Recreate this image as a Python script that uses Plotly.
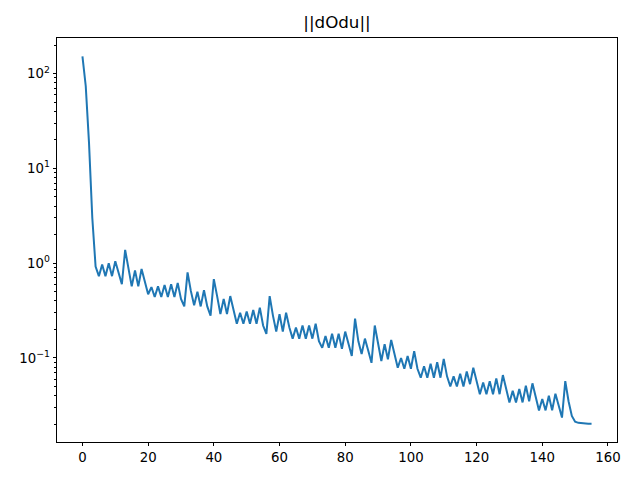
import plotly.graph_objects as go
import numpy as np

title_text = "||dOdu||"
values = [
    152, 74, 18.5, 3.0, 0.92, 0.73, 0.97, 0.73, 1.0, 0.73,
    1.05, 0.77, 0.6, 1.38, 0.86, 0.57, 0.84, 0.57, 0.87, 0.62,
    0.47, 0.56, 0.44, 0.57, 0.44, 0.59, 0.44, 0.60, 0.44, 0.62,
    0.42, 0.35, 0.80, 0.51, 0.36, 0.50, 0.35, 0.52, 0.35, 0.28,
    0.68, 0.45, 0.29, 0.42, 0.29, 0.45, 0.31, 0.23, 0.30, 0.23,
    0.31, 0.23, 0.32, 0.23, 0.34, 0.22, 0.18, 0.45, 0.28, 0.19,
    0.29, 0.19, 0.30, 0.21, 0.16, 0.21, 0.16, 0.22, 0.16, 0.22,
    0.16, 0.23, 0.15, 0.128, 0.17, 0.128, 0.18, 0.128, 0.18, 0.125,
    0.19, 0.14, 0.105, 0.26, 0.15, 0.11, 0.16, 0.12, 0.089, 0.22,
    0.14, 0.093, 0.14, 0.097, 0.155, 0.11, 0.079, 0.10, 0.077, 0.105,
    0.077, 0.118, 0.077, 0.062, 0.082, 0.062, 0.087, 0.062, 0.09, 0.062,
    0.098, 0.064, 0.05, 0.064, 0.05, 0.068, 0.05, 0.072, 0.053, 0.079,
    0.057, 0.0415, 0.055, 0.0415, 0.057, 0.0415, 0.061, 0.0415, 0.066, 0.047,
    0.034, 0.045, 0.034, 0.047, 0.034, 0.051, 0.035, 0.054, 0.038, 0.028,
    0.037, 0.028, 0.040, 0.028, 0.042, 0.031, 0.0235, 0.057, 0.035, 0.0245,
    0.0213, 0.0207, 0.0205, 0.0204, 0.0203, 0.0203,
]
iterations = list(range(len(values)))

x_ticks = [0, 20, 40, 60, 80, 100, 120, 140, 160]
y_major = [0.1, 1, 10, 100]
y_major_text = ["10<sup>\u22121</sup>", "10<sup>0</sup>", "10<sup>1</sup>", "10<sup>2</sup>"]
y_minor = [m * 10.0 ** e for e in range(-2, 3) for m in range(2, 10)]

fig = go.Figure()
fig.add_trace(go.Scatter(x=iterations, y=values, mode="lines",
                         line=dict(color="#1f77b4", width=2)))

n = len(values) - 1
xpad = 0.05 * n
ylo, yhi = np.log10(min(values)), np.log10(max(values))
ypad = 0.05 * (yhi - ylo)

axis_common = dict(showline=True, linecolor="black", linewidth=0.8, mirror=True,
                   ticks="outside", ticklen=3.5, tickwidth=0.8, tickcolor="black",
                   showgrid=False, zeroline=False, automargin=False,
                   tickfont=dict(family="DejaVu Sans", size=13.3, color="black"))

fig.update_layout(
    width=640, height=480,
    margin=dict(l=57, r=23, t=38, b=38),
    paper_bgcolor="white", plot_bgcolor="white",
    showlegend=False,
    title=dict(text=title_text, x=0.5, xref="paper", xanchor="center",
               y=1, yref="paper", yanchor="bottom", pad=dict(b=10),
               automargin=False,
               font=dict(family="DejaVu Sans", size=16.7, color="black")),
    xaxis=dict(range=[-xpad, n + xpad], tickvals=x_ticks, **axis_common),
    yaxis=dict(type="log", range=[ylo - ypad, yhi + ypad],
               tickvals=y_major, ticktext=y_major_text,
               minor=dict(tickvals=y_minor, ticks="outside", ticklen=2,
                          tickwidth=0.6, tickcolor="black", showgrid=False),
               **axis_common),
)

fig.write_html("out.html", config={"displayModeBar": False},
               post_script="document.body.style.margin='0';")
